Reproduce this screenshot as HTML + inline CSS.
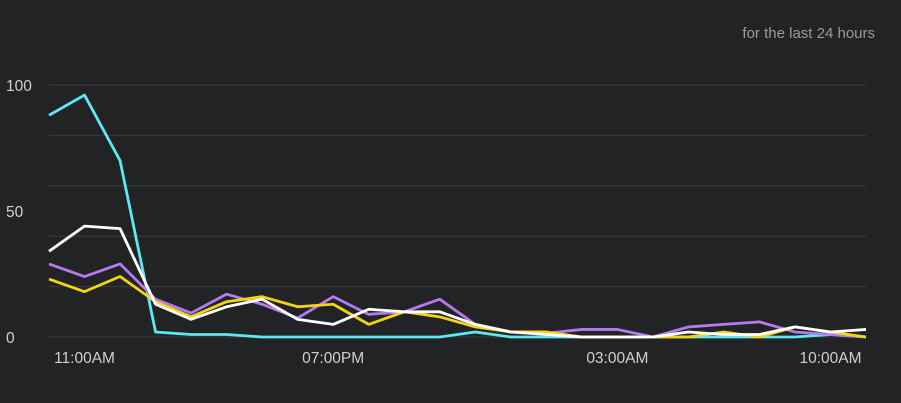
<!DOCTYPE html>
<html><head><meta charset="utf-8"><style>
html,body{margin:0;padding:0;background:#222325;}
svg{display:block;font-family:"Liberation Sans",sans-serif;}
</style></head><body>
<svg id="chart" width="901" height="403">
<rect width="901" height="403" fill="#222325"/>
<text x="875" y="38" text-anchor="end" font-size="15" fill="#9a9a9a">for the last 24 hours</text>
<g id="grid"></g><g id="ylabels"></g><g id="xlabels"></g><g id="series"></g>
</svg>
<script>
const cyanVals=[88,96,70,2,1,1,0,0,0,0,0,0,2,0,0,0,0,0,0,0,0,0,1,0];
const purpleVals=[29,24,29,15,9.5,17,13,7.5,16,9,10,15,5,2,1.5,3,3,0,4,5,6,2,1,0];
const yellowVals=[23,18,24,14,8,14,16,12,13,5,10,8,4,2,2,0,0,0,0,2,0,4,2,0];
const whiteVals=[34,44,43,13,7,12,15,7,5,11,10,10,5,2,1,0,0,0,2,1,1,4,2,3];
const gridVals=[0,20,40,60,80,100];
const yTicks=[0,50,100];
const xTickIdx=[1,8,16,22];
const xTickLabels=["11:00AM","07:00PM","03:00AM","10:00AM"];
const NS="http://www.w3.org/2000/svg";
const x=i=>49+i*(866-49)/23;
const y=v=>337-v*2.52;
function mk(tag,attrs,parent){const e=document.createElementNS(NS,tag);for(const k in attrs)e.setAttribute(k,attrs[k]);document.getElementById(parent).appendChild(e);return e;}
gridVals.forEach(v=>{const l=mk('line',{x1:49,x2:866,y1:y(v),y2:y(v),stroke:'#3c3d3f','stroke-width':1},'grid');

});
yTicks.forEach(v=>{const t=mk('text',{x:6,y:y(v)+6,'font-size':15.5,fill:'#d0d0d0'},'ylabels');t.textContent=v;

});
xTickIdx.forEach((idx,k)=>{const t=mk('text',{x:x(idx),y:363,'font-size':15.5,fill:'#d0d0d0','text-anchor':'middle'},'xlabels');t.textContent=xTickLabels[k];

});
[[cyanVals,'#5ce8f4','cyan-series'],[purpleVals,'#b57af2','purple-series'],[yellowVals,'#f5d416','yellow-series'],[whiteVals,'#ffffff','white-series']].forEach(([vals,col,name])=>{
const p=mk('polyline',{points:vals.map((v,i)=>x(i)+','+y(v)).join(' '),fill:'none',stroke:col,'stroke-width':2.8,'stroke-linejoin':'round'},'series');

});
</script>
</body></html>
